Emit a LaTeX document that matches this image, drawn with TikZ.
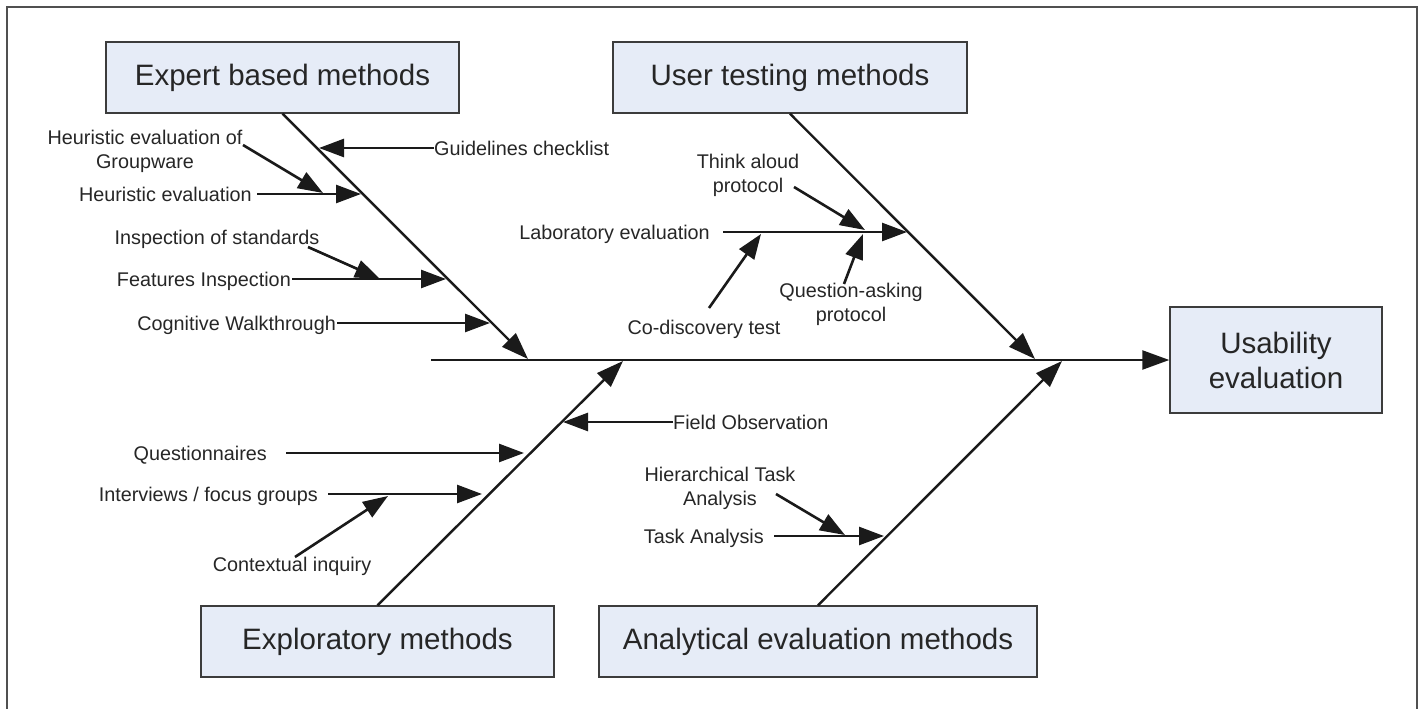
\documentclass[tikz,border=0pt]{standalone}
\usepackage{fontspec}
\setmainfont{Liberation Sans}
\usetikzlibrary{arrows.meta}
\definecolor{boxfill}{HTML}{E6ECF7}
\definecolor{boxline}{HTML}{3C3C3C}
\definecolor{ink}{HTML}{1A1A1A}
\definecolor{txt}{HTML}{262626}
\definecolor{framecol}{HTML}{505050}

\begin{document}
\begin{tikzpicture}[x=1pt,y=-1pt,
  catbox/.style={draw=boxline, fill=boxfill, line width=1.4pt, inner sep=0pt,
                 text=txt, font=\fontsize{29.5}{35}\selectfont},
  lbl/.style={inner sep=0pt, text=txt, font=\fontsize{19.8}{24}\selectfont,
              text height=14pt, text depth=0pt},
  mlbl/.style={inner sep=0pt, text=txt, font=\fontsize{19.8}{24}\selectfont, align=center},
  arr/.style={draw=ink, line width=2.6pt, -{Triangle[length=25pt,width=18pt]}},
  bone/.style={draw=ink, line width=2.4pt, -{Triangle[length=27pt,width=19pt]}},
]
\useasboundingbox (0,0) rectangle (1425,709);

% outer frame (open at the bottom)
\draw[framecol, line width=2pt] (7,709) -- (7,7) -- (1417,7) -- (1417,709);

% category boxes and the effect box
\node[catbox, minimum width=353pt, minimum height=71pt] (expert) at (282.5,77.5) {Expert based methods};
\node[catbox, minimum width=354pt, minimum height=71pt] (user) at (790,77.5) {User testing methods};
\node[catbox, minimum width=212pt, minimum height=106pt, align=center] (usab) at (1276,360) {Usability\\evaluation};
\node[catbox, minimum width=353pt, minimum height=71pt] (explo) at (377.5,641.5) {Exploratory methods};
\node[catbox, minimum width=438pt, minimum height=71pt] (analy) at (818,641.5) {Analytical evaluation methods};

% spine and main bones
\coordinate (spS) at (431,360);
\coordinate (eTip) at (528,359);
\coordinate (uTip) at (1035,359);
\coordinate (xTip) at (623,361);
\coordinate (aTip) at (1062,361);
\draw[bone] (spS) -- (usab.west);
\draw[bone] (expert.south) -- (eTip);
\draw[bone] (user.south) -- (uTip);
\draw[bone] (explo.north) -- (xTip);
\draw[bone] (analy.north) -- (aTip);

% expert based methods
\node[lbl, anchor=west] (guide) at (434,148) {Guidelines checklist};
\coordinate (guideT) at (319,148);
\draw[arr] (guide.west) -- (guideT);

\node[mlbl, anchor=north] (heurG) at (145,130) {Heuristic evaluation of\\Groupware};
\coordinate (hgS) at (243,145);
\coordinate (hgT) at (323,193);
\draw[arr] (hgS) -- (hgT);

\node[lbl, anchor=east] (heur) at (252,194) {Heuristic evaluation};
\coordinate (heurT) at (361,194);
\draw[arr, shorten <=5pt] (heur.east) -- (heurT);

\node[lbl] (insp) at (217,237) {Inspection of standards};
\coordinate (inspS) at (308,247);
\coordinate (inspT) at (380,279);
\draw[arr] (inspS) -- (inspT);

\node[lbl, anchor=east] (feat) at (291,279) {Features Inspection};
\coordinate (featT) at (446,279);
\draw[arr, shorten <=1pt] (feat.east) -- (featT);

\node[lbl, anchor=east] (cogn) at (336,323) {Cognitive Walkthrough};
\coordinate (cognT) at (490,323);
\draw[arr, shorten <=1pt] (cogn.east) -- (cognT);

% user testing methods
\node[lbl, anchor=east] (lab) at (710,232) {Laboratory evaluation};
\coordinate (labT) at (907,232);
\draw[arr, shorten <=13pt] (lab.east) -- (labT);

\node[mlbl, anchor=north] (think) at (748,154) {Think aloud\\protocol};
\coordinate (thinkS) at (794,187);
\coordinate (thinkT) at (865,230);
\draw[arr] (thinkS) -- (thinkT);

\node[mlbl, anchor=north] (quest) at (851,283) {Question-asking\\protocol};
\coordinate (questS) at (844,284);
\coordinate (questT) at (863,234);
\draw[arr] (questS) -- (questT);

\node[lbl] (codis) at (704,327) {Co-discovery test};
\coordinate (codisS) at (709,308);
\coordinate (codisT) at (761,234);
\draw[arr] (codisS) -- (codisT);

% exploratory methods
\node[lbl, anchor=west] (field) at (673,422) {Field Observation};
\coordinate (fieldT) at (563,422);
\draw[arr] (field.west) -- (fieldT);

\node[lbl, anchor=east] (qnr) at (267,453) {Questionnaires};
\coordinate (qnrT) at (524,453);
\draw[arr, shorten <=19pt] (qnr.east) -- (qnrT);

\node[lbl, anchor=east] (intv) at (318,494) {Interviews / focus groups};
\coordinate (intvT) at (482,494);
\draw[arr, shorten <=10pt] (intv.east) -- (intvT);

\node[lbl] (ctx) at (292,564) {Contextual inquiry};
\coordinate (ctxS) at (295,557);
\coordinate (ctxT) at (388,496);
\draw[arr] (ctxS) -- (ctxT);

% analytical evaluation methods
\node[mlbl, anchor=north] (hta) at (720,467) {Hierarchical Task\\Analysis};
\coordinate (htaS) at (776,494);
\coordinate (htaT) at (845,535);
\draw[arr] (htaS) -- (htaT);

\node[lbl, anchor=east] (task) at (764,536) {Task Analysis};
\coordinate (taskT) at (884,536);
\draw[arr, shorten <=10pt] (task.east) -- (taskT);
\end{tikzpicture}
\end{document}
